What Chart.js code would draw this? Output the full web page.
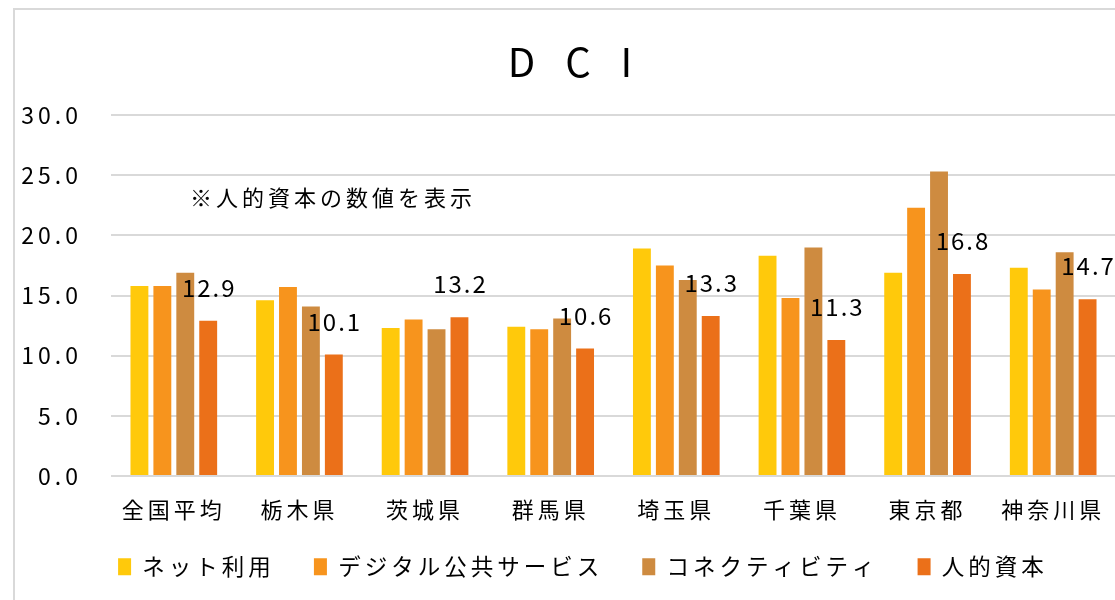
<!DOCTYPE html>
<html>
<head>
<meta charset="utf-8">
<script src="https://cdn.jsdelivr.net/npm/chart.js@4.4.1/dist/chart.umd.min.js"></script>
<style>
  html, body { margin: 0; padding: 0; background: #fff; overflow: hidden; }
  #frame { position: absolute; left: 13px; top: 8px; width: 1150px; height: 600px;
           border-left: 2px solid #d9d9d9; border-top: 2px solid #d9d9d9; }
  #wrap { position: absolute; left: 0; top: 0; width: 1160px; height: 600px; }
</style>
</head>
<body>
<div id="frame"></div>
<div id="wrap"><canvas id="grafica"></canvas></div>
<script>
// categories and values
var prefs = ["全国平均", "栃木県", "茨城県", "群馬県", "埼玉県", "千葉県", "東京都", "神奈川県"];
var netRiyou = [15.8, 14.6, 12.3, 12.4, 18.9, 18.3, 16.9, 17.3];
var digitalKokyo = [15.8, 15.7, 13.0, 12.2, 17.5, 14.8, 22.3, 15.5];
var connectivity = [16.9, 14.1, 12.2, 13.1, 16.3, 19.0, 25.3, 18.6];
var jintekiShihon = [12.9, 10.1, 13.2, 10.6, 13.3, 11.3, 16.8, 14.7];
var seriesNames = ["ネット利用", "デジタル公共サービス", "コネクティビティ", "人的資本"];
var seriesColors = ["#FFC90B", "#F7941D", "#CE8B40", "#EB7019"];
var yTicks = [0, 5, 10, 15, 20, 25, 30];
var noteText = "※人的資本の数値を表示";

var FONT = "'Noto Sans CJK JP', 'Noto Sans', sans-serif";

// the picture's text is widely spaced
var spacingPlugin = {
  id: 'spacingPlugin',
  beforeLayout: function(chart) { chart.ctx.letterSpacing = '4px'; },
  afterLayout: function(chart) {
    // in the original the title and legend sit a bit right of centre
    chart.legend.left += 34; chart.legend.right += 34;
    chart.titleBlock.left += 14; chart.titleBlock.right += 14;
  },
  beforeDraw: function(chart) { chart.ctx.letterSpacing = '4px'; }
};

// labels only on the 人的資本 bars, plus the note
var labelPlugin = {
  id: 'labelPlugin',
  afterDatasetsDraw: function(chart) {
    var ctx = chart.ctx;
    var meta = chart.getDatasetMeta(3);
    ctx.save();
    ctx.fillStyle = '#000';
    ctx.letterSpacing = '2px';
    ctx.font = '24px ' + FONT;
    ctx.textAlign = 'center';
    ctx.textBaseline = 'middle';
    meta.data.forEach(function(bar, i) {
      ctx.fillText(jintekiShihon[i].toFixed(1), bar.x + 1, bar.y - 33);
    });
    var ys = chart.scales.y;
    var xs = chart.scales.x;
    ctx.letterSpacing = '4px';
    ctx.font = '22px ' + FONT;
    ctx.textAlign = 'left';
    ctx.fillText(noteText, xs.left + 79, ys.getPixelForValue(23.1));
    ctx.restore();
  }
};

var graph = document.getElementById("grafica");
var barChart = new Chart(graph, {
  type: 'bar',
  data: {
    labels: prefs,
    datasets: [
      { label: seriesNames[0], data: netRiyou, backgroundColor: seriesColors[0] },
      { label: seriesNames[1], data: digitalKokyo, backgroundColor: seriesColors[1] },
      { label: seriesNames[2], data: connectivity, backgroundColor: seriesColors[2] },
      { label: seriesNames[3], data: jintekiShihon, backgroundColor: seriesColors[3] }
    ]
  },
  plugins: [spacingPlugin, labelPlugin],
  options: {
    responsive: true,
    maintainAspectRatio: false,
    animation: false,
    datasets: {
      bar: { categoryPercentage: 0.73, barPercentage: 0.78 }
    },
    layout: { padding: { left: 0, right: 44, top: 0, bottom: 12 } },
    plugins: {
      title: {
        display: true,
        text: "D  C  I",
        color: '#000',
        font: { family: FONT, size: 40, weight: 'normal' },
        padding: { top: 38, bottom: 29 }
      },
      legend: {
        position: 'bottom',
        labels: {
          color: '#000',
          boxWidth: 13,
          boxHeight: 17,
          padding: 21,
          font: { family: FONT, size: 22.5 },
          generateLabels: function(chart) {
            var items = Chart.defaults.plugins.legend.labels.generateLabels(chart);
            items.forEach(function(it) { it.text = it.text + '  '; it.lineWidth = 0; });
            return items;
          }
        }
      },
      tooltip: { enabled: false }
    },
    scales: {
      x: {
        grid: { display: false },
        border: { display: false },
        ticks: { color: '#000', font: { family: FONT, size: 22 }, padding: 12, maxRotation: 0 }
      },
      y: {
        min: 0,
        max: 30,
        afterBuildTicks: function(axis) {
          axis.ticks = yTicks.map(function(v) { return { value: v }; });
        },
        afterFit: function(axis) { axis.width = 111; },
        grid: { color: '#d9d9d9', lineWidth: 2, drawTicks: false },
        border: { display: false },
        ticks: {
          color: '#000',
          font: { family: FONT, size: 23 },
          padding: 29,
          callback: function(v) { return v.toFixed(1); }
        }
      }
    }
  }
});
</script>
</body>
</html>
